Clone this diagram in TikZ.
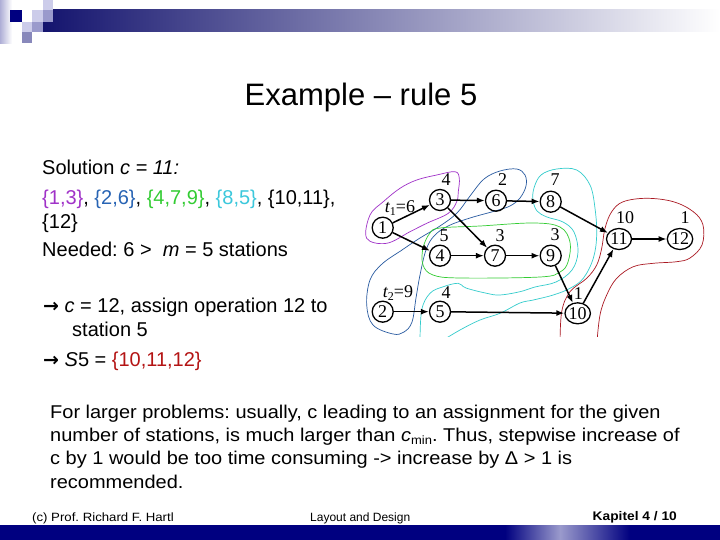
\documentclass[tikz,border=0pt]{standalone}
\usepackage{fontspec}
\setmainfont{Liberation Sans}
\newfontfamily\tnr{Liberation Serif}
\newfontfamily\wsans[FakeStretch=1.08]{Liberation Sans}
\newfontfamily\fsans[FakeStretch=1.1]{Liberation Sans}
\newfontfamily\dejavu{DejaVu Sans}
\usetikzlibrary{arrows.meta,shapes.geometric}
\definecolor{navy}{RGB}{0,0,128}
\definecolor{barnavy}{RGB}{20,20,110}
\definecolor{lav}{RGB}{154,154,204}
\definecolor{palelav}{RGB}{204,204,234}
\definecolor{midlav}{RGB}{136,136,187}
\definecolor{cpurple}{RGB}{160,50,200}
\definecolor{cblue}{RGB}{40,90,160}
\definecolor{cgreen}{RGB}{51,204,51}
\definecolor{ccyan}{RGB}{51,204,204}
\definecolor{cred}{RGB}{170,25,35}
\definecolor{tblue}{RGB}{40,100,180}
\definecolor{tcyan}{RGB}{60,200,220}
\definecolor{tred}{RGB}{180,20,20}
\frenchspacing
\begin{document}
\begin{tikzpicture}[x=1pt,y=-1pt,
  opnode/.style={circle,draw,line width=1.3pt,minimum size=21pt,inner sep=0pt,font=\tnr\fontsize{18}{18}\selectfont},
  wideop/.style={ellipse,draw,line width=1.3pt,minimum width=25pt,minimum height=21pt,inner sep=0pt,font=\tnr\fontsize{18}{18}\selectfont},
  wlabel/.style={inner sep=0pt,font=\tnr\fontsize{18}{18}\selectfont},
  conn/.style={line width=1.5pt,-{Latex[length=8pt,width=6pt]}},
  hull/.style={line width=0.7pt},
  body/.style={anchor=base west,inner sep=0pt,font=\fontsize{20}{24}\selectfont},
  para/.style={anchor=base west,inner sep=0pt,font=\wsans\fontsize{18.5}{22}\selectfont},
  foot/.style={inner sep=0pt,font=\fsans\fontsize{12}{14}\selectfont}]
\useasboundingbox (0,0) rectangle (720,540);
\fill[white] (0,0) rectangle (720,540);
% header
\shade[left color=barnavy,right color=white] (43,10) rectangle (720,32);
\shade[left color=lav!80,right color=white] (0,0) rectangle (12,44);
\fill[navy] (10,10) rectangle (22,22);
\fill[palelav] (32,10) rectangle (43,22);
\fill[palelav] (43,0) rectangle (53,10);
\fill[lav] (43,10) rectangle (53,22);
\fill[palelav] (22,22) rectangle (32,32);
\fill[lav] (32,22) rectangle (43,32);
\fill[midlav] (22,32) rectangle (32,43);
% footer bar
\fill[navy] (0,525) rectangle (720,540);
\shade[left color=navy,right color=lav] (505,525) rectangle (560,540);
\shade[left color=lav,right color=navy] (560,525) rectangle (630,540);
% title
\node[anchor=base,inner sep=0pt,font=\fontsize{31}{36}\selectfont] (title) at (361,106) {Example – rule 5};
% body text
\node[body] (l1) at (42,175) {Solution \textit{c = 11:}};
\node[body] (l2) at (42,205) {\textcolor{cpurple}{\{1,3\}}, \textcolor{tblue}{\{2,6\}}, \textcolor{cgreen}{\{4,7,9\}}, \textcolor{tcyan}{\{8,5\}}, \{10,11\},};
\node[body] (l3) at (42,229) {\{12\}};
\node[body] (l4) at (42,256) {Needed: 6 >\ \ \textit{m} = 5 stations};
\node[body] (l5) at (43,312) {{\dejavu\bfseries\fontsize{19}{20}\selectfont →} \textit{c} = 12, assign operation 12 to};
\node[body] (l6) at (72,336) {station 5};
\node[body] (l7) at (43,366) {{\dejavu\bfseries\fontsize{19}{20}\selectfont →} \textit{S}5 = \textcolor{tred}{\{10,11,12\}}};
% paragraph
\node[para] (p1) at (50,418) {For larger problems: usually, c leading to an assignment for the given};
\node[para] (p2) at (50,441.5) {number of stations, is much larger than \textit{c}\raisebox{-0.3ex}{\fontsize{12}{12}\selectfont min}. Thus, stepwise increase of};
\node[para] (p3) at (50,464.5) {c by 1 would be too time consuming -> increase by Δ > 1 is};
\node[para] (p4) at (50,488) {recommended.};
% footer
\node[foot,anchor=base west] (f1) at (32,521) {(c) Prof. Richard F. Hartl};
\node[inner sep=0pt,anchor=base west,font=\fontsize{12}{14}\selectfont] (f2) at (310,521) {Layout and Design};
\node[inner sep=0pt,anchor=base east,font=\fsans\bfseries\fontsize{12.5}{14}\selectfont] (f3) at (677,520) {Kapitel 4 / 10};
% hulls
\begin{scope}
\clip (360,165) rectangle (706,336);
\draw[hull,cpurple] plot[smooth cycle,tension=0.6] coordinates {(366.7,238.3) (370,215) (383.3,201.7) (400,188.3) (416.7,180) (436.7,175) (455,171.7) (459.3,178.3) (458.3,191.7) (456.7,201.7) (448.3,213.3) (426.7,223.3) (410,231.7) (386.7,243.3)};
\draw[hull,cblue] plot[smooth cycle,tension=0.6] coordinates {(393,334) (373,325) (366.7,305) (370,280) (382,264) (402,250) (420,238) (440,226) (457,213) (470,196) (484,179) (500,171) (516.7,169) (525,175) (526,186) (520,198) (510,206) (495,211) (470,218) (448,226) (434,236) (426,250) (420,275) (416,298) (412,322) (404,332)};
\draw[hull,cgreen] plot[smooth cycle,tension=0.6] coordinates {(440,228) (480,226) (533,223) (560,227) (570,242) (568,262) (560,272) (540,277) (460,278) (433,275) (423,265) (423,248) (430,233)};
\draw[hull,ccyan] plot[smooth,tension=0.6] coordinates {(420,342) (421.7,310) (430,293.3) (443.3,286.7) (458.3,283.3) (466,288) (486.7,293.3) (500,295) (520,291.7) (535,287) (556,282) (572,270) (578,252) (574,232) (563,222) (547,217) (537,211) (533,200) (534,188) (541,175) (556.7,169) (576.7,170) (590,185) (595,208.3) (596.7,235) (593.3,258.3) (583.3,278.3) (570,288.3) (553.3,295) (533.3,300) (520,303) (500,313.3) (480,320) (460,330) (440,342)};
\draw[hull,cred] plot[smooth,tension=0.6] coordinates {(560,345) (561.7,311.7) (570,291.7) (586.7,278.3) (596.7,265) (601.7,248.3) (605,228.3) (611.7,211.7) (623.3,201.7) (646.7,198.3) (673.3,201.7) (693.3,211.7) (703,225) (702,245) (690,258) (676.7,261.7) (653.3,263.3) (633.3,266.7) (616.7,278.3) (606.7,295) (600,315) (596.7,345)};
\end{scope}
% nodes
\node[opnode] (n1) at (382.7,227.7) {1};
\node[opnode] (n2) at (382.7,311.7) {2};
\node[opnode] (n3) at (440,200) {3};
\node[opnode] (n4) at (440,255.7) {4};
\node[opnode] (n5) at (440,311.7) {5};
\node[opnode] (n6) at (496,200.7) {6};
\node[opnode] (n7) at (495,255.7) {7};
\node[opnode] (n8) at (550.7,201.7) {8};
\node[opnode] (n9) at (550.7,255.7) {9};
\node[wideop] (n10) at (577.7,313.3) {10};
\node[wideop] (n11) at (619,239) {11};
\node[wideop] (n12) at (680,239) {12};
% weights
\node[wlabel] (w3) at (446,180) {4};
\node[wlabel] (w6) at (502.7,180) {2};
\node[wlabel] (w8) at (555,180) {7};
\node[wlabel] (w4) at (444,236) {5};
\node[wlabel] (w7) at (500,236) {3};
\node[wlabel] (w9) at (555,235) {3};
\node[wlabel] (w11) at (625,217.7) {10};
\node[wlabel] (w12) at (685,217.7) {1};
\node[wlabel] (w10) at (578.3,293.3) {1};
\node[wlabel] (w5) at (446,292.7) {4};
\node[wlabel] (t1) at (400,208) {{\itshape t}\raisebox{-0.35ex}{\fontsize{12}{12}\selectfont 1}=6};
\node[wlabel] (t2) at (398,292.7) {{\itshape t}\raisebox{-0.35ex}{\fontsize{12}{12}\selectfont 2}=9};
% connectors
\draw[conn] (n1) -- (n3);
\draw[conn] (n1) -- (n4);
\draw[conn] (n3) -- (n6);
\draw[conn] (n3) -- (n7);
\draw[conn] (n6) -- (n8);
\draw[conn] (n4) -- (n7);
\draw[conn] (n7) -- (n9);
\draw[conn] (n8) -- (n11);
\draw[conn] (n9) -- (n10);
\draw[conn] (n2) -- (n5);
\draw[conn] (n5) -- (n10);
\draw[conn] (n10) -- (n11);
\draw[conn] (n11) -- (n12);
\end{tikzpicture}
\end{document}
